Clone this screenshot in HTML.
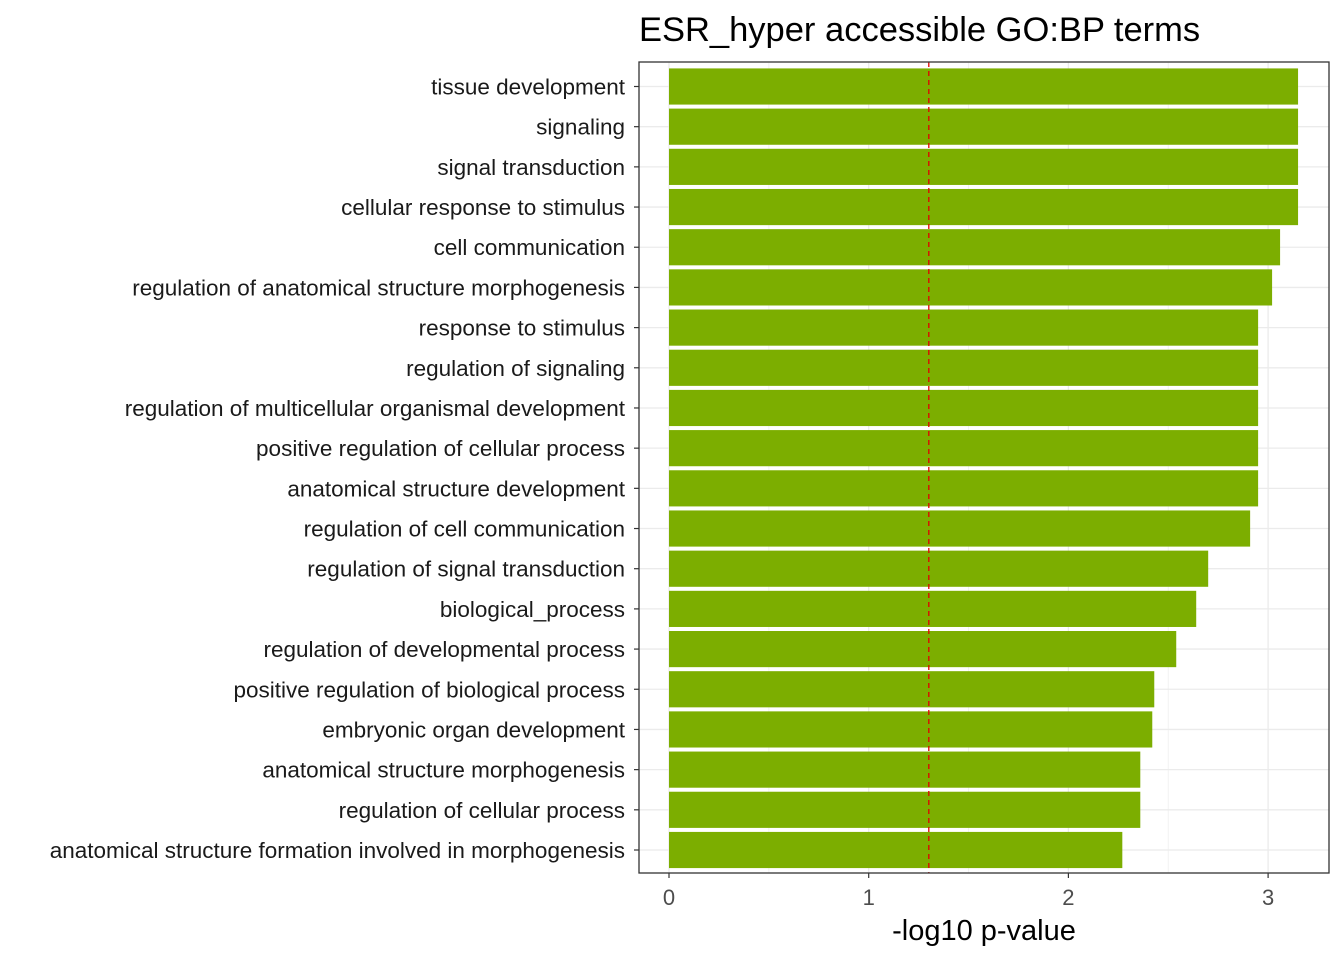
<!DOCTYPE html>
<html><head><meta charset="utf-8"><style>
body{margin:0;background:#fff;font-family:"Liberation Sans",Arial,sans-serif}
</style></head><body>
<svg id="chart" width="1344" height="960" xmlns="http://www.w3.org/2000/svg"></svg>
<script>
const categories = ["tissue development","signaling","signal transduction","cellular response to stimulus","cell communication","regulation of anatomical structure morphogenesis","response to stimulus","regulation of signaling","regulation of multicellular organismal development","positive regulation of cellular process","anatomical structure development","regulation of cell communication","regulation of signal transduction","biological_process","regulation of developmental process","positive regulation of biological process","embryonic organ development","anatomical structure morphogenesis","regulation of cellular process","anatomical structure formation involved in morphogenesis"];
const values = [3.15,3.15,3.15,3.15,3.06,3.02,2.95,2.95,2.95,2.95,2.95,2.91,2.70,2.64,2.54,2.43,2.42,2.36,2.36,2.27];
const xTicks = [0,1,2,3];
const threshold = 1.301;

const svg = document.getElementById('chart');
const NS = 'http://www.w3.org/2000/svg';
const L=639,R=1329,T=62,B=873;
const x0=669, xs=199.7;
const X = v => x0 + v*xs;
const y0=86.5, ys=(850-86.5)/19;
const Y = i => y0 + i*ys;
function mk(tag, attrs, parent){const e=document.createElementNS(NS,tag);for(const k in attrs)e.setAttribute(k,attrs[k]);(parent||svg).appendChild(e);return e;}

const panel = mk('rect',{x:L,y:T,width:R-L,height:B-T,fill:'#fff'});


for(let v=0.5; X(v)<R; v+=1){
  const g=mk('line',{x1:X(v),x2:X(v),y1:T,y2:B,stroke:'#f2f2f2','stroke-width':1});
  
  
}
xTicks.forEach(t=>{
  const g=mk('line',{x1:X(t),x2:X(t),y1:T,y2:B,stroke:'#ebebeb','stroke-width':1.3});
  
  
});
categories.forEach((c,i)=>{
  const g=mk('line',{x1:L,x2:R,y1:Y(i),y2:Y(i),stroke:'#ebebeb','stroke-width':1.3});
  
  
});
const bh=ys*0.9;
categories.forEach((c,i)=>{
  const r=mk('rect',{x:X(0),y:Y(i)-bh/2,width:X(values[i])-X(0),height:bh,fill:'#7CAE00'});
  
  
  const tk=mk('line',{x1:L-5,x2:L,y1:Y(i),y2:Y(i),stroke:'#333','stroke-width':1.2});
  
  
  const t=mk('text',{x:L-14,y:Y(i)+8,'text-anchor':'end','font-size':22.5,fill:'#1a1a1a'});
  t.textContent=c;
  
  
});
const th=mk('line',{x1:X(threshold),x2:X(threshold),y1:T,y2:B,stroke:'#e00000','stroke-width':1.3,'stroke-dasharray':'5,4'});


const border=mk('rect',{x:L,y:T,width:R-L,height:B-T,fill:'none',stroke:'#333','stroke-width':1.3});


xTicks.forEach(t=>{
  const tk=mk('line',{x1:X(t),x2:X(t),y1:B,y2:B+5,stroke:'#333','stroke-width':1.2});
  
  
  const lb=mk('text',{x:X(t),y:B+32,'text-anchor':'middle','font-size':22,fill:'#4d4d4d'});
  lb.textContent=t;
  
  
});
const xt=mk('text',{x:(L+R)/2,y:940,'text-anchor':'middle','font-size':29,fill:'#000'});
xt.textContent='-log10 p-value';


const ti=mk('text',{x:L,y:41,'font-size':34.5,fill:'#000'});
ti.textContent='ESR_hyper accessible GO:BP terms';


</script>
</body></html>
